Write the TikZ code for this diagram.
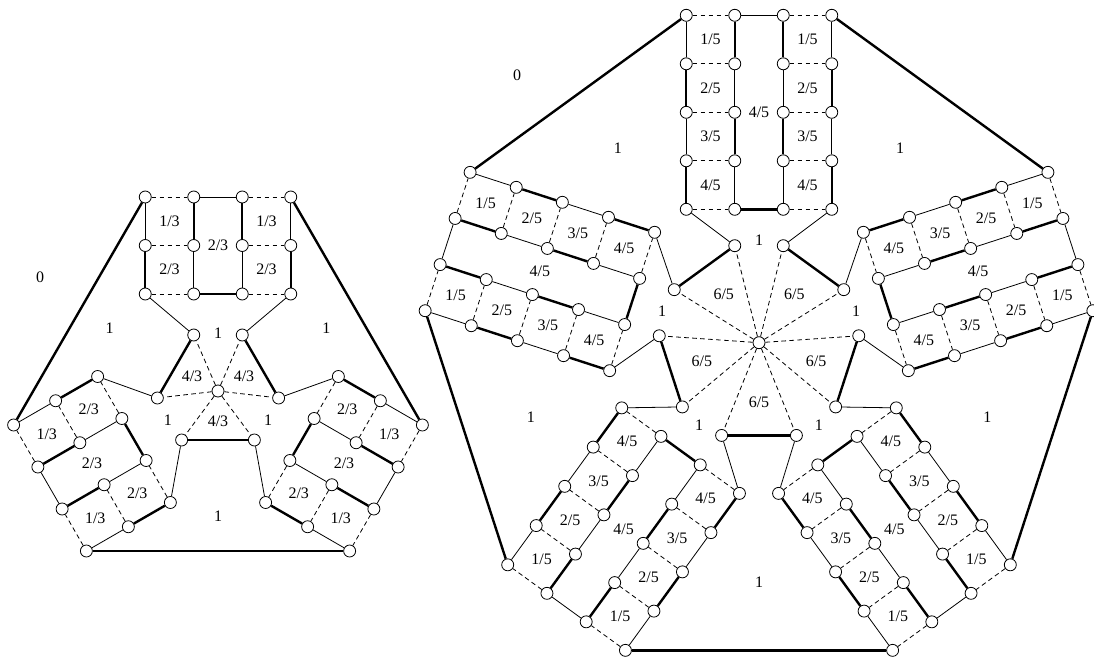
\documentclass[tikz,border=0pt]{standalone}
\usepackage{fontspec}
\setmainfont{Liberation Serif}
\usetikzlibrary{calc}

\tikzset{
  vtx/.style={circle, draw, fill=white, inner sep=0pt, minimum size=9pt, line width=0.6pt},
  thin edge/.style={line width=0.6pt},
  thick edge/.style={line width=1.8pt},
  dash edge/.style={line width=0.6pt, dash pattern=on 3.5pt off 2.5pt},
  lbl/.style={inner sep=1pt, font=\fontsize{12}{14}\selectfont},
}

% one wheel: #1 name, #2 arms, #3 outer row, #4 inner vertices, #5 inner 1, #6 hub labels, #7 outer 1
\newcommand{\wheel}[7]{%
  \pgfmathtruncatemacro\wm{#2}%
  \pgfmathtruncatemacro\wlast{#2-1}%
  \pgfmathtruncatemacro\wseg{#2-2}%
  \pgfmathtruncatemacro\wup{#2+1}%
  \node[vtx] (#1hub) at (0,0) {};
  \foreach \arm in {0,...,\wlast}{
    \begin{scope}[rotate=\arm*360/\wm]
      \foreach \rw in {0,...,\wlast}
        \foreach \col/\px in {0/-72.75,1/-24.25,2/24.25,3/72.75}
          \node[vtx] (#1\arm-\col-\rw) at (\px,{#3-48.5*\rw}) {};
      \node[vtx] (#1\arm-hl) at (-24.25,#4) {};
      \node[vtx] (#1\arm-hr) at (24.25,#4) {};
      % fractions in the ladder
      \foreach \rw in {0,...,\wseg}{
        \pgfmathtruncatemacro\kk{\rw+1}
        \node[lbl] (#1\arm-fl\rw) at (-48.5,{#3-48.5*\rw-24.25}) {\kk/\wm};
        \node[lbl] (#1\arm-fr\rw) at (48.5,{#3-48.5*\rw-24.25}) {\kk/\wm};
      }
      \node[lbl] (#1\arm-mid) at (0,{#3-24.25*\wlast}) {\wlast/\wm};
      \node[lbl] (#1\arm-in) at (0,#5) {1};
      \node[lbl] (#1\arm-tri) at ({90+180/\wm}:#6) {\wup/\wm};
      \node[lbl] (#1\arm-out) at ({90+180/\wm}:#7) {1};
    \end{scope}
  }
  \foreach \arm in {0,...,\wlast}{
    \pgfmathtruncatemacro\nx{mod(\arm+1,\wm)}
    \foreach \rw in {0,...,\wlast}{
      \draw[dash edge] (#1\arm-0-\rw) -- (#1\arm-1-\rw);
      \draw[dash edge] (#1\arm-2-\rw) -- (#1\arm-3-\rw);
    }
    \draw[thin edge] (#1\arm-1-0) -- (#1\arm-2-0);
    \draw[thick edge] (#1\arm-1-\wlast) -- (#1\arm-2-\wlast);
    \foreach \rw in {0,...,\wseg}{
      \pgfmathtruncatemacro\nr{\rw+1}
      \ifodd\rw
        \draw[thick edge] (#1\arm-0-\rw) -- (#1\arm-0-\nr);
        \draw[thick edge] (#1\arm-3-\rw) -- (#1\arm-3-\nr);
        \draw[thin edge] (#1\arm-1-\rw) -- (#1\arm-1-\nr);
        \draw[thin edge] (#1\arm-2-\rw) -- (#1\arm-2-\nr);
      \else
        \draw[thin edge] (#1\arm-0-\rw) -- (#1\arm-0-\nr);
        \draw[thin edge] (#1\arm-3-\rw) -- (#1\arm-3-\nr);
        \draw[thick edge] (#1\arm-1-\rw) -- (#1\arm-1-\nr);
        \draw[thick edge] (#1\arm-2-\rw) -- (#1\arm-2-\nr);
      \fi
    }
    \draw[thin edge] (#1\arm-0-\wlast) -- (#1\arm-hl);
    \draw[thin edge] (#1\arm-3-\wlast) -- (#1\arm-hr);
    \draw[dash edge] (#1hub) -- (#1\arm-hl);
    \draw[dash edge] (#1hub) -- (#1\arm-hr);
    \draw[thick edge] (#1\arm-hl) -- (#1\nx-hr);
    \draw[thick edge] (#1\arm-0-0) -- (#1\nx-3-0);
  }
}

\begin{document}
\begin{tikzpicture}[x=0.75pt,y=0.75pt]
  \useasboundingbox (0,0) rectangle (1094,658);
  % left wheel, three arms
  \begin{scope}[shift={(218,267)}]
    \wheel{L}{3}{194}{56}{58}{30}{125}
  \end{scope}
  % right wheel, five arms
  \begin{scope}[shift={(759,315.3)}]
    \wheel{R}{5}{327.4}{97}{102}{60}{240}
  \end{scope}
  \node[lbl] (zeroL) at (40,381) {0};
  \node[lbl] (zeroR) at (517,583) {0};
\end{tikzpicture}
\end{document}
